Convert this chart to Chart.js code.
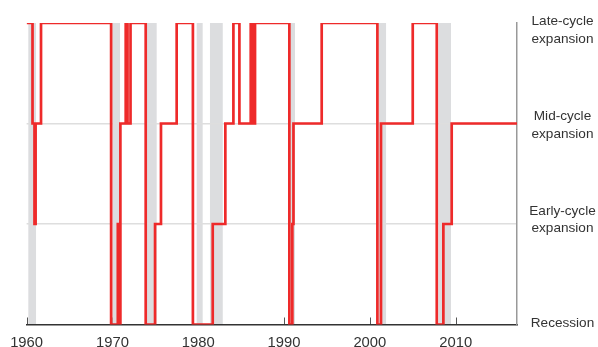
<!DOCTYPE html>
<html>
<head>
<meta charset="utf-8">
<script src="https://cdn.jsdelivr.net/npm/chart.js@4.4.1/dist/chart.umd.min.js"></script>
<style>
  html, body { margin: 0; padding: 0; background: #fff; }
  #wrap { width: 598px; height: 347px; position: relative; }
</style>
</head>
<body>
<div id="wrap"><canvas id="cycle"></canvas></div>
<script>
// business cycle phase: 0 recession, 1 early, 2 mid, 3 late
const phaseNames = [
  ['Recession'],
  ['Early-cycle', 'expansion'],
  ['Mid-cycle', 'expansion'],
  ['Late-cycle', 'expansion'],
];
const xTicks = [1960, 1970, 1980, 1990, 2000, 2010];

// each point = year the phase starts
const phaseYears = [
  1960.0, 1960.69, 1960.92, 1961.05, 1961.68,
  1969.85, 1970.63, 1970.88, 1970.93, 1971.55, 1971.76, 1972.11,
  1973.88, 1974.97, 1975.66, 1977.49,
  1979.38, 1981.69, 1983.16, 1984.1, 1984.8, 1986.12, 1986.33, 1986.62,
  1990.62, 1990.97, 1991.1, 1994.39,
  2000.88, 2001.3, 2005.0,
  2007.8, 2008.57, 2009.54, 2017.15,
];
const phaseLevels = [
  3, 2, 1, 2, 3,
  0, 1, 0, 2, 3, 2, 3,
  0, 1, 2, 3,
  0, 1, 2, 3, 2, 3, 2, 3,
  0, 1, 2, 3,
  0, 2, 3,
  0, 1, 2, 2,
];

// shaded recessions
const recessionStarts = [1960.2, 1969.99, 1973.8, 1979.82, 1981.37, 1990.5, 2000.99, 2007.98];
const recessionEnds = [1961.1, 1970.89, 1975.16, 1980.52, 1982.86, 1991.28, 2001.89, 2009.46];

const FONT = "'Liberation Sans', Arial, Helvetica, sans-serif";

const backdrop = {
  id: 'backdrop',
  beforeDraw(chart) {
    const { ctx, chartArea: a, scales: { x } } = chart;
    ctx.save();
    // small upward tick marks on the time axis
    ctx.strokeStyle = '#555';
    ctx.lineWidth = 1;
    xTicks.forEach((t) => {
      const px = Math.round(x.getPixelForValue(t)) + 0.5;
      ctx.beginPath();
      ctx.moveTo(px, a.bottom - 7);
      ctx.lineTo(px, a.bottom);
      ctx.stroke();
    });
    ctx.fillStyle = '#dcdddf';
    recessionStarts.forEach((s, i) => {
      const x0 = x.getPixelForValue(s);
      const x1 = x.getPixelForValue(recessionEnds[i]);
      ctx.fillRect(x0, a.top, x1 - x0, a.bottom - a.top);
    });
    ctx.restore();
  },
};

const labelShift = [-1.5, -4.5, 1.5, 7];
const phaseLabels = {
  id: 'phaseLabels',
  afterDraw(chart) {
    const { ctx, chartArea: a, scales: { y } } = chart;
    ctx.save();
    ctx.font = '13.6px ' + FONT;
    ctx.fillStyle = '#333';
    ctx.textAlign = 'center';
    ctx.textBaseline = 'middle';
    const lh = 17.5;
    phaseNames.forEach((lines, i) => {
      const cy = y.getPixelForValue(i) + labelShift[i];
      const y0 = cy - ((lines.length - 1) * lh) / 2;
      lines.forEach((t, j) => ctx.fillText(t, a.right + 45.5, y0 + j * lh));
    });
    ctx.restore();
  },
};

new Chart(document.getElementById('cycle'), {
  type: 'line',
  data: {
    datasets: [
      {
        data: phaseYears.map((yr, i) => ({ x: yr, y: phaseLevels[i] })),
        stepped: true,
        borderColor: '#ee2a2a',
        borderWidth: 2.7,
        pointRadius: 0,
        fill: false,
        borderJoinStyle: 'miter',
      },
    ],
  },
  options: {
    responsive: true,
    maintainAspectRatio: false,
    animation: false,
    layout: { padding: { left: 26.6, top: 23, right: 0, bottom: 0 } },
    plugins: { legend: { display: false }, tooltip: { enabled: false } },
    scales: {
      x: {
        type: 'linear',
        min: 1960,
        max: 2017.15,
        afterBuildTicks: (s) => { s.ticks = xTicks.map((v) => ({ value: v })); },
        afterFit: (s) => { s.height = 22.5; },
        grid: { display: false, drawTicks: false },
        border: { display: true, color: '#333', width: 1.5 },
        ticks: {
          padding: 9.5,
          color: '#333',
          maxRotation: 0,
          font: { family: FONT, size: 14.8 },
          callback: (v) => String(v),
        },
      },
      y: {
        position: 'right',
        min: 0,
        max: 3,
        afterBuildTicks: (s) => { s.ticks = [0, 1, 2, 3].map((v) => ({ value: v })); },
        afterFit: (s) => { s.width = 81; },
        ticks: { display: false },
        grid: {
          drawTicks: false,
          lineWidth: 1.5,
          color: (c) => (c.tick && (c.tick.value === 1 || c.tick.value === 2) ? '#dedede' : 'rgba(0,0,0,0)'),
        },
        border: { display: true, color: '#999', width: 1.5 },
      },
    },
  },
  plugins: [backdrop, phaseLabels],
});
</script>
</body>
</html>
